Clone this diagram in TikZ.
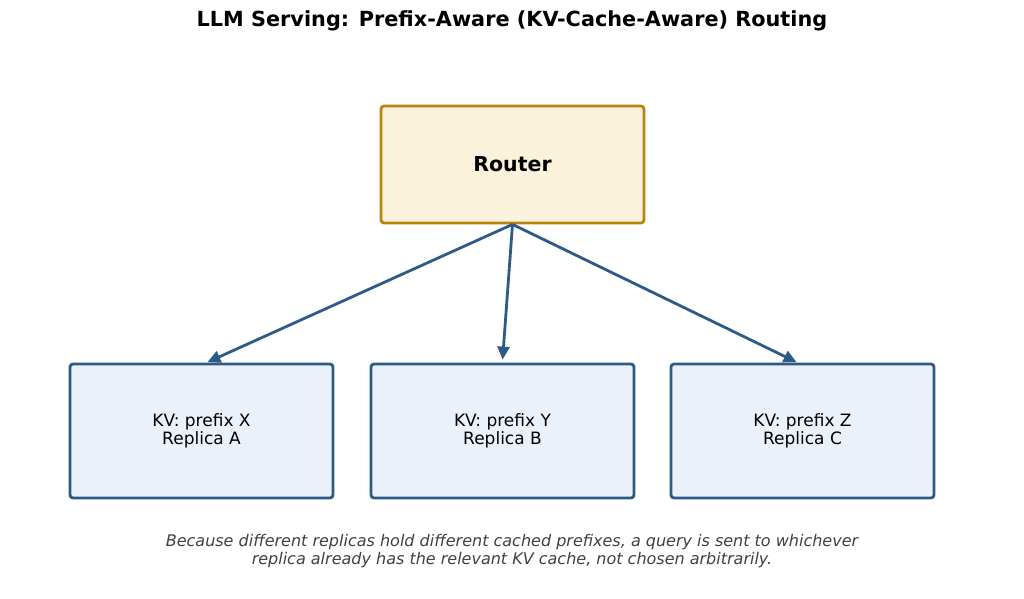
\documentclass[tikz,border=0pt]{standalone}
\usepackage{fontspec}
\setmainfont{DejaVu Sans}
\usetikzlibrary{arrows.meta,calc}
\definecolor{rfill}{HTML}{FBF2DC}
\definecolor{rdraw}{HTML}{B8860B}
\definecolor{bfill}{HTML}{EAF1FB}
\definecolor{bdraw}{HTML}{2E5A87}
\definecolor{capgray}{HTML}{404040}
\tikzset{
  routerbox/.style={draw=rdraw, fill=rfill, line width=2.8pt, rounded corners=3pt,
    minimum width=263pt, minimum height=117pt, inner sep=0pt,
    font=\fontsize{20.5}{24}\selectfont\bfseries},
  replicabox/.style={draw=bdraw, fill=bfill, line width=2.8pt, rounded corners=3pt,
    minimum width=263pt, minimum height=134pt, inner sep=0pt, align=center,
    font=\fontsize{17}{18.5}\selectfont},
  flow/.style={draw=bdraw, line width=2.8pt, -{Triangle[length=13pt,width=12pt]}, shorten >=1pt},
}
\begin{document}
\begin{tikzpicture}[x=1pt,y=-1pt]
\useasboundingbox (0,0) rectangle (1024,598);
\node[font=\fontsize{20.8}{24}\selectfont\bfseries] (title) at (512,21) {LLM Serving: Prefix-Aware (KV-Cache-Aware) Routing};
\node[routerbox] (R) at (512.5,164.5) {Router};
\node[replicabox] (A) at (201.5,431) {KV: prefix X\\Replica A};
\node[replicabox] (B) at (502.5,431) {KV: prefix Y\\Replica B};
\node[replicabox] (C) at (802.5,431) {KV: prefix Z\\Replica C};
\draw[flow] (R.south) -- ($(A.north)+(5,0)$);
\draw[flow] (R.south) -- ($(B.north)+(0,-2)$);
\draw[flow] (R.south) -- ($(C.north)+(-5,0)$);
\node[font=\fontsize{16}{18.5}\selectfont\itshape, text=capgray, align=center] (cap) at (512,551)
  {Because different replicas hold different cached prefixes, a query is sent to whichever\\replica already has the relevant KV cache, not chosen arbitrarily.};
\end{tikzpicture}
\end{document}
